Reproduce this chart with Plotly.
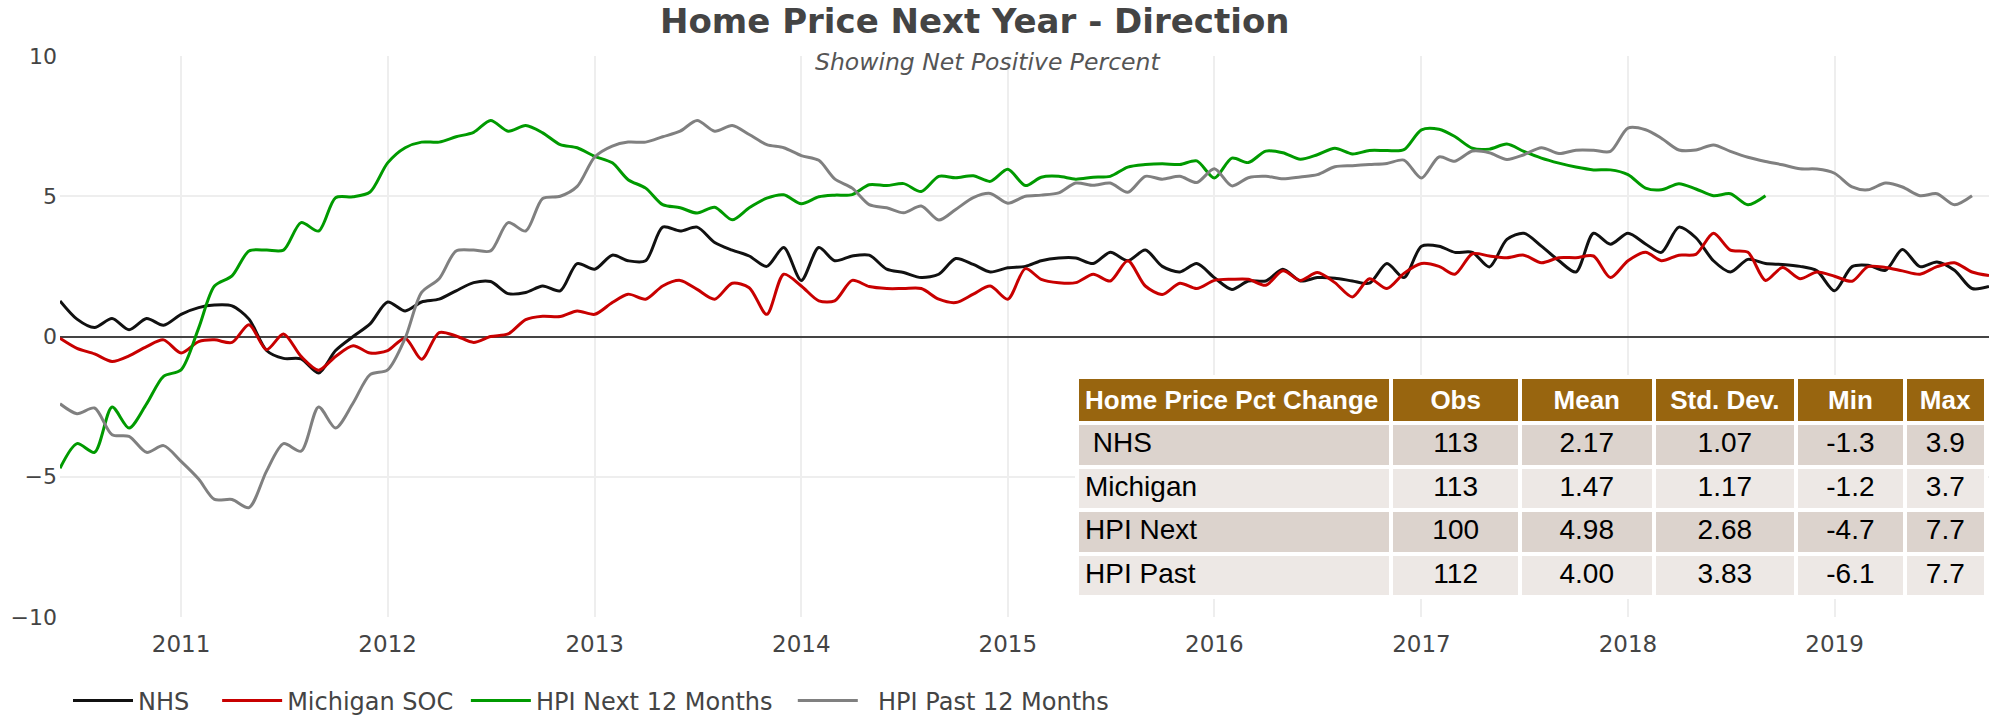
import pandas as pd
import plotly.graph_objects as go

# ---------------- data ----------------
start_month = "2010-06-01"

nhs = [1.27, 0.62, 0.32, 0.64, 0.24, 0.64, 0.40, 0.79, 1.03, 1.12, 1.09, 0.62,
       -0.50, -0.78, -0.80, -1.30, -0.50, 0.00, 0.45, 1.23, 0.91, 1.23, 1.33, 1.63,
       1.92, 1.96, 1.53, 1.57, 1.80, 1.63, 2.60, 2.40, 2.90, 2.70, 2.70, 3.90,
       3.76, 3.90, 3.35, 3.08, 2.87, 2.50, 3.17, 2.00, 3.17, 2.70, 2.87, 2.90,
       2.40, 2.28, 2.10, 2.22, 2.78, 2.57, 2.30, 2.45, 2.50, 2.70, 2.80, 2.80,
       2.60, 3.00, 2.70, 3.08, 2.50, 2.30, 2.60, 2.10, 1.68, 1.98, 1.98, 2.40,
       1.98, 2.10, 2.08, 1.98, 1.90, 2.60, 2.10, 3.22, 3.22, 3.00, 3.00, 2.48,
       3.46, 3.68, 3.22, 2.70, 2.30, 3.68, 3.29, 3.68, 3.30, 3.00, 3.90, 3.52,
       2.70, 2.30, 2.75, 2.60, 2.57, 2.50, 2.34, 1.63, 2.49, 2.54, 2.36, 3.10,
       2.49, 2.66, 2.36, 1.71, 1.78]

michigan = [-0.06, -0.42, -0.62, -0.89, -0.69, -0.36, -0.12, -0.59, -0.18, -0.12, -0.21, 0.42,
            -0.47, 0.09, -0.71, -1.20, -0.71, -0.33, -0.59, -0.50, -0.06, -0.81, 0.14, 0.02,
            -0.21, 0.00, 0.09, 0.60, 0.72, 0.71, 0.91, 0.79, 1.21, 1.51, 1.33, 1.80,
            2.00, 1.68, 1.33, 1.90, 1.74, 0.79, 2.22, 1.80, 1.27, 1.27, 2.00, 1.78,
            1.71, 1.71, 1.71, 1.33, 1.21, 1.51, 1.80, 1.33, 2.42, 2.04, 1.92, 1.92,
            2.22, 1.98, 2.70, 1.80, 1.50, 1.90, 1.71, 2.00, 2.04, 2.04, 1.83, 2.34,
            2.00, 2.28, 1.92, 1.41, 2.06, 1.71, 2.25, 2.60, 2.50, 2.22, 2.95, 2.87,
            2.81, 2.90, 2.63, 2.81, 2.81, 2.87, 2.10, 2.70, 3.00, 2.70, 2.90, 2.93,
            3.68, 3.08, 3.00, 2.00, 2.46, 2.06, 2.30, 2.15, 1.97, 2.49, 2.46, 2.34,
            2.22, 2.49, 2.63, 2.30, 2.17]

hpi_next = [-4.70, -3.82, -4.13, -2.51, -3.26, -2.40, -1.42, -1.19, 0.30, 1.80, 2.16, 3.05,
            3.08, 3.08, 4.06, 3.76, 4.95, 4.98, 5.15, 6.19, 6.73, 6.93, 6.93, 7.12,
            7.28, 7.70, 7.32, 7.52, 7.26, 6.84, 6.73, 6.42, 6.19, 5.59, 5.29, 4.70,
            4.59, 4.40, 4.61, 4.16, 4.59, 4.93, 5.05, 4.73, 4.98, 5.04, 5.06, 5.41,
            5.38, 5.45, 5.17, 5.71, 5.66, 5.73, 5.53, 5.96, 5.38, 5.68, 5.71, 5.61,
            5.68, 5.71, 6.04, 6.13, 6.16, 6.13, 6.26, 5.65, 6.36, 6.20, 6.61, 6.55,
            6.32, 6.48, 6.71, 6.51, 6.63, 6.63, 6.66, 7.37, 7.39, 7.13, 6.71, 6.68,
            6.86, 6.60, 6.36, 6.18, 6.04, 5.94, 5.94, 5.77, 5.29, 5.23, 5.45, 5.26,
            5.02, 5.09, 4.70, 5.02]

hpi_past = [-2.40, -2.75, -2.55, -3.50, -3.56, -4.13, -3.89, -4.45, -5.08, -5.81, -5.81, -6.10,
            -4.80, -3.82, -4.09, -2.51, -3.26, -2.37, -1.36, -1.19, -0.06, 1.57, 2.06, 3.05,
            3.08, 3.05, 4.06, 3.76, 4.92, 5.00, 5.35, 6.40, 6.79, 6.93, 6.93, 7.12,
            7.32, 7.70, 7.32, 7.52, 7.20, 6.84, 6.73, 6.45, 6.28, 5.62, 5.29, 4.70,
            4.59, 4.41, 4.65, 4.15, 4.53, 4.95, 5.10, 4.75, 5.00, 5.04, 5.12, 5.47,
            5.39, 5.47, 5.14, 5.71, 5.61, 5.71, 5.49, 5.98, 5.37, 5.66, 5.71, 5.62,
            5.69, 5.77, 6.05, 6.09, 6.13, 6.17, 6.29, 5.65, 6.40, 6.25, 6.61, 6.55,
            6.31, 6.48, 6.73, 6.52, 6.64, 6.64, 6.60, 7.43, 7.37, 7.07, 6.65, 6.65,
            6.83, 6.60, 6.39, 6.24, 6.12, 5.98, 5.97, 5.82, 5.33, 5.23, 5.47, 5.33,
            5.02, 5.09, 4.70, 5.02]

series_names = ["NHS", "Michigan SOC", "HPI Next 12 Months", "HPI Past 12 Months"]
series_values = [nhs, michigan, hpi_next, hpi_past]
series_colors = ["#111111", "#c80000", "#009a00", "#808080"]

# summary table
table_header = ["Home Price Pct Change", "Obs", "Mean", "Std. Dev.", "Min", "Max"]
table_rows = [" NHS", "Michigan", "HPI Next", "HPI Past"]
table_obs = [113, 113, 100, 112]
table_mean = [2.17, 1.47, 4.98, 4.00]
table_std = [1.07, 1.17, 2.68, 3.83]
table_min = [-1.3, -1.2, -4.7, -6.1]
table_max = [3.9, 3.7, 7.7, 7.7]

title_text = "Home Price Next Year - Direction"
subtitle_text = "Showing Net Positive Percent"

# ---------------- figure ----------------
W, H = 2010, 715
ML, MR, MT, MB = 60, 3, 56, 98
PW, PH = W - ML - MR, H - MT - MB
NB = "\u00a0"
# spacing around legend entries (leading, trailing)
legend_lead = ["", "", "", NB * 2]
legend_trail = [NB * 3, NB, NB * 2, ""]

fig = go.Figure()
for name, vals, col, lead, trail in zip(series_names, series_values, series_colors,
                                        legend_lead, legend_trail):
    x = pd.date_range(start_month, periods=len(vals), freq="MS")
    fig.add_trace(go.Scatter(
        x=x, y=vals, name=lead + name + trail, mode="lines",
        line=dict(color=col, width=3, shape="spline", smoothing=0.8),
        hovertemplate=name + ": %{y}<extra></extra>",
    ))

row_fill = ["#dcd3cd", "#ede8e5", "#dcd3cd", "#ede8e5"]
tfam = "Liberation Sans, Arial"
fig.add_trace(go.Table(
    domain=dict(x=[(1077 - ML) / PW, (1986 - ML) / PW], y=[0.0, 1 - (377 - MT) / PH]),
    columnwidth=[313, 128, 133, 142, 108, 81],
    header=dict(
        values=["<b>%s</b>" % h.replace(" ", NB) for h in table_header],
        fill_color="#98650f",
        font=dict(color="white", size=26, family=tfam),
        align=["left", "center", "center", "center", "center", "center"],
        height=43,
        line=dict(color="white", width=4),
    ),
    cells=dict(
        values=[table_rows,
                [str(v) for v in table_obs],
                ["%.2f" % v for v in table_mean],
                ["%.2f" % v for v in table_std],
                ["%.1f" % v for v in table_min],
                ["%.1f" % v for v in table_max]],
        fill_color=[row_fill] * 6,
        font=dict(color="black", size=28, family=tfam),
        align=["left", "center", "center", "center", "center", "center"],
        height=43.5,
        line=dict(color="white", width=4),
    ),
))

tick_font = dict(family="DejaVu Sans", size=23, color="#444444")

fig.update_layout(
    width=W, height=H,
    margin=dict(l=ML, r=MR, t=MT, b=MB, pad=0, autoexpand=False),
    paper_bgcolor="white", plot_bgcolor="white",
    showlegend=True,
    legend=dict(
        orientation="h", x=8 / PW, xanchor="left", y=(617 - 701) / PH, yanchor="middle",
        font=dict(family="DejaVu Sans", size=24, color="#444444"),
        itemwidth=60, bgcolor="rgba(0,0,0,0)",
    ),
    xaxis=dict(
        type="date", domain=[0, (1989 - ML) / PW], automargin=False,
        range=["2010-06-01", "2019-10-01"],
        tick0="2011-01-01", dtick="M12", tickformat="%Y",
        showgrid=True, gridcolor="#eeeeee", gridwidth=2,
        showline=False, zeroline=False, ticks="",
        tickfont=tick_font, ticklabelstandoff=11,
    ),
    yaxis=dict(
        range=[-10, 10], dtick=5, tick0=0, automargin=False,
        showgrid=True, gridcolor="#eeeeee", gridwidth=2,
        zeroline=True, zerolinecolor="#444444", zerolinewidth=2,
        showline=False, ticks="", ticklabelstandoff=2,
        tickfont=dict(family="DejaVu Sans", size=22, color="#444444"),
    ),
    annotations=[
        dict(text="<b>%s</b>" % title_text, xref="paper", yref="paper",
             x=(974 - ML) / PW, y=1 + (MT - 21) / PH, xanchor="center", yanchor="middle",
             showarrow=False, font=dict(family="DejaVu Sans", size=34, color="#444444")),
        dict(text="<i>%s</i>" % subtitle_text, xref="paper", yref="paper",
             x=(987 - ML) / PW, y=1 + (MT - 62) / PH, xanchor="center", yanchor="middle",
             showarrow=False, font=dict(family="DejaVu Sans", size=23.5, color="#555555")),
    ],
)

fig.write_html(
    "out.html",
    config={"displayModeBar": False},
    post_script="document.body.style.margin='0px';document.body.style.overflow='hidden';",
)
